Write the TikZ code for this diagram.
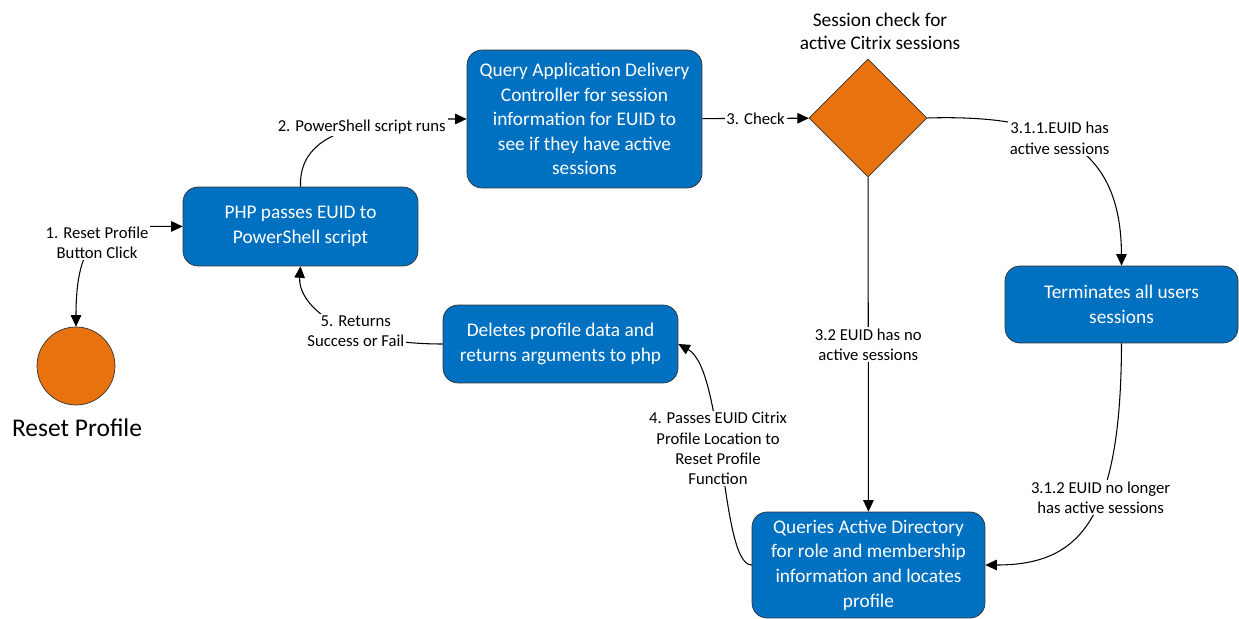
\documentclass[tikz,border=0pt]{standalone}
\usepackage{fontspec}
\setmainfont{Carlito}
\usetikzlibrary{shapes.geometric,arrows.meta}
\definecolor{boxblue}{RGB}{0,112,192}
\definecolor{decorange}{RGB}{232,114,14}

\begin{document}
\begin{tikzpicture}[x=0.02cm, y=-0.02cm,
		>={Triangle[length=2.3mm,width=2.1mm]},
		task/.style={draw=black!80, fill=boxblue, rounded corners=0.3cm, text=white, align=center, inner sep=2pt, font=\fontsize{11}{14}\selectfont},
		decision/.style={diamond, draw=black!80, fill=decorange, minimum width=2.36cm, minimum height=2.36cm, inner sep=0pt},
		lbl/.style={fill=white, inner sep=1pt, align=center, font=\fontsize{9.5}{11.5}\selectfont},
		conn/.style={line width=0.6pt},
	]
		\useasboundingbox (0,0) rectangle (1239,618);
		\node [circle, draw=black!80, fill=decorange, minimum size=1.56cm, inner sep=0pt] (reset) at (76,366) {};
		\node [font=\fontsize{14.5}{17}\selectfont] (resettxt) at (77,428) {Reset Profile};
		\node [task, minimum width=4.7cm, minimum height=1.58cm] (php) at (300.5,226.5) {PHP passes EUID to\\PowerShell script};
		\node [task, minimum width=4.7cm, minimum height=2.76cm] (query) at (584.5,119) {Query Application Delivery\\Controller for session\\information for EUID to\\see if they have active\\sessions};
		\node [decision] (check) at (868,118) {};
		\node [align=center, font=\fontsize{11}{13}\selectfont] (checktxt) at (880,31) {Session check for\\active Citrix sessions};
		\node [task, minimum width=4.66cm, minimum height=1.54cm] (term) at (1121.5,304.5) {Terminates all users\\sessions};
		\node [task, minimum width=4.7cm, minimum height=1.56cm] (del) at (560.5,344) {Deletes profile data and\\returns arguments to php};
		\node [task, minimum width=4.66cm, minimum height=2.12cm] (ad) at (868.5,565) {Queries Active Directory\\for role and membership\\information and locates\\profile};

		\draw [conn, <->] (reset.north) .. controls (76,225) and (110,226) .. (php.west) node [lbl, pos=0.45] {1. Reset Profile\\Button Click};
		\draw [conn, ->] (php.north) .. controls (298,125) and (380,119) .. (query.west) node [lbl, pos=0.56] {2. PowerShell script runs};
		\draw [conn, ->] (query) -- (check) node [lbl, midway] {3. Check};
		\draw [conn, ->] (check.east) .. controls (1060,114) and (1121,150) .. (term.north) node [lbl, pos=0.43] {3.1.1.EUID has\\active sessions};
		\draw [conn, ->] (check) -- (ad) node [lbl, midway] {3.2 EUID has no\\active sessions};
		\draw [conn, ->] (term.south) .. controls (1121,520) and (1080,565) .. (ad.east) node [lbl, pos=0.4] {3.1.2 EUID no longer\\has active sessions};
		\draw [conn, ->] (ad.west) .. controls (720,565) and (725,370) .. (del.east) node [lbl, pos=0.55] {4. Passes EUID Citrix\\Profile Location to\\Reset Profile\\Function};
		\draw [conn, ->] (del.west) .. controls (330,344) and (298,300) .. (php.south) node [lbl, pos=0.33] {5. Returns\\Success or Fail};
	\end{tikzpicture}
\end{document}
